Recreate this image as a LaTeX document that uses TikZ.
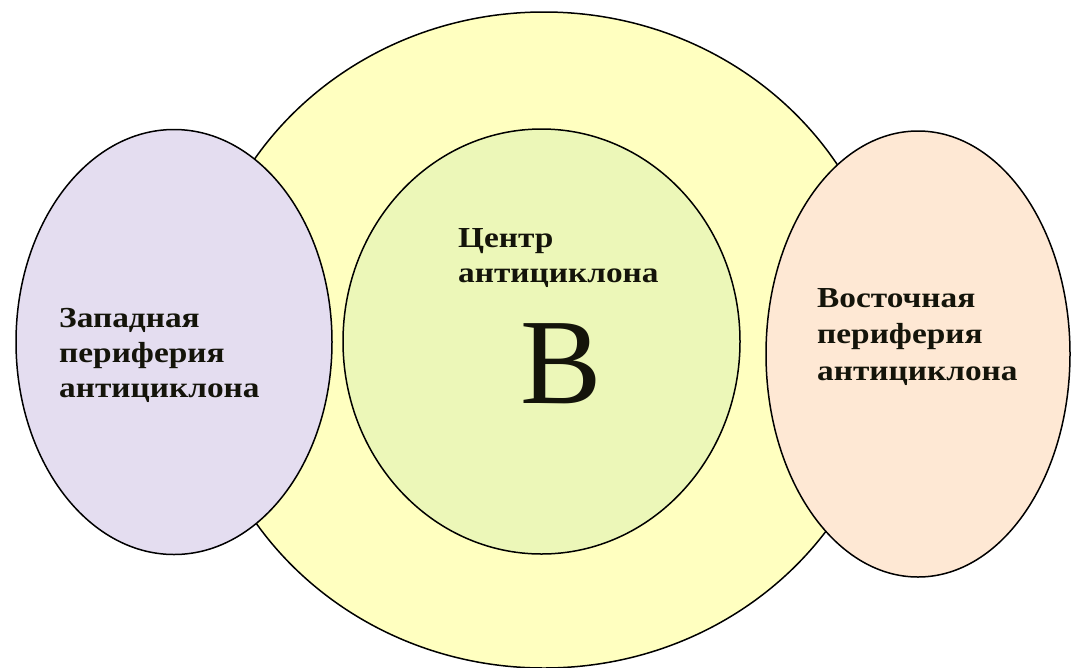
\documentclass[tikz,border=0pt]{standalone}
\usepackage{fontspec}
\setmainfont{Liberation Serif}
\usetikzlibrary{shapes.geometric}
\definecolor{bigyellow}{RGB}{255,255,192}
\definecolor{coregreen}{RGB}{236,247,184}
\definecolor{westlilac}{RGB}{228,221,240}
\definecolor{eastpeach}{RGB}{254,232,212}
\definecolor{inkdark}{RGB}{20,20,10}
\tikzset{
  zone/.style={ellipse, draw=black, line width=1.5pt, inner sep=0pt, outer sep=0pt},
  lbl/.style={anchor=base west, inner sep=0pt, text=inkdark, font=\fontsize{29}{35}\selectfont\bfseries},
  bigletter/.style={anchor=base, inner sep=0pt, text=inkdark, font=\fontsize{122}{122}\selectfont}
}
\newcommand{\wid}[1]{\scalebox{1.15}[1]{#1}}
\begin{document}
\begin{tikzpicture}[x=1pt,y=-1pt]
\useasboundingbox (0,0) rectangle (1075,667);
\node[zone, fill=bigyellow, minimum width=694pt, minimum height=656pt] (outer) at (544,340) {};
\node[zone, fill=coregreen, minimum width=397pt, minimum height=425pt] (core) at (541.5,341.5) {};
\node[zone, fill=westlilac, minimum width=316pt, minimum height=425pt] (west) at (174,342) {};
\node[zone, fill=eastpeach, minimum width=304pt, minimum height=446pt] (east) at (918,354) {};
% west text
\node[lbl] (w1) at (59,327) {\wid{Западная}};
\node[lbl] (w2) at (59,362) {\wid{периферия}};
\node[lbl] (w3) at (59,397) {\wid{антициклона}};
% center text
\node[lbl] (c1) at (458,247) {\wid{Центр}};
\node[lbl] (c2) at (458,282) {\wid{антициклона}};
\node[bigletter] (hi) at (561.5,403) {В};
% east text
\node[lbl] (e1) at (817,307) {\wid{Восточная}};
\node[lbl] (e2) at (817,343) {\wid{периферия}};
\node[lbl] (e3) at (817,380) {\wid{антициклона}};
\end{tikzpicture}
\end{document}
